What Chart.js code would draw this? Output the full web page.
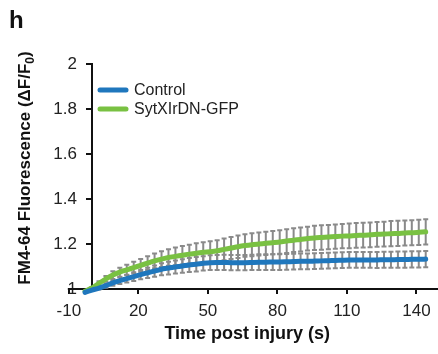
<!DOCTYPE html>
<html>
<head>
<meta charset="utf-8">
<script src="https://cdn.jsdelivr.net/npm/chart.js@4.4.0/dist/chart.umd.min.js"></script>
<style>
  body { margin: 0; background: #fff; }
  #wrap { width: 438px; height: 354px; }
</style>
</head>
<body>
<div id="wrap"><canvas id="fmChart" width="438" height="354"></canvas></div>
<script>
// time points (s) and mean dF/F0 values
const times = [-3, 0, 3, 6, 9, 12, 15, 18, 21, 24, 27, 30, 33, 36, 39, 42, 45, 48, 51, 54,
    57, 60, 63, 66, 69, 72, 75, 78, 81, 84, 87, 90, 93, 96, 99, 102, 105, 108, 111, 114,
    117, 120, 123, 126, 129, 132, 135, 138, 141, 144];

const control = [0.985, 0.995, 1.004, 1.015, 1.027, 1.037, 1.046, 1.055, 1.064, 1.072,
    1.080, 1.088, 1.093, 1.098, 1.102, 1.107, 1.110, 1.114, 1.117, 1.118,
    1.118, 1.117, 1.117, 1.117, 1.118, 1.119, 1.119, 1.120, 1.120, 1.121,
    1.122, 1.123, 1.123, 1.124, 1.125, 1.126, 1.127, 1.128, 1.129, 1.129,
    1.129, 1.129, 1.129, 1.130, 1.130, 1.131, 1.131, 1.132, 1.132, 1.133];

const sytx = [0.990, 1.005, 1.025, 1.045, 1.062, 1.075, 1.085, 1.095, 1.105, 1.115,
    1.125, 1.133, 1.140, 1.145, 1.150, 1.155, 1.159, 1.163, 1.166, 1.170,
    1.176, 1.182, 1.188, 1.193, 1.197, 1.200, 1.203, 1.206, 1.209, 1.213,
    1.217, 1.220, 1.224, 1.227, 1.229, 1.231, 1.233, 1.235, 1.236, 1.238,
    1.239, 1.241, 1.243, 1.244, 1.246, 1.247, 1.249, 1.250, 1.252, 1.254];

// error bar half lengths
const controlErr = [0, 0.003, 0.006, 0.009, 0.012, 0.015, 0.017, 0.019, 0.021, 0.023,
    0.025, 0.027, 0.028, 0.029, 0.030, 0.031, 0.032, 0.032, 0.033, 0.033,
    0.034, 0.034, 0.034, 0.034, 0.034, 0.035, 0.035, 0.035, 0.035, 0.035,
    0.035, 0.035, 0.035, 0.035, 0.035, 0.035, 0.035, 0.035, 0.035, 0.035,
    0.035, 0.035, 0.036, 0.036, 0.036, 0.036, 0.036, 0.036, 0.036, 0.036];

const sytxErr = [0, 0.004, 0.009, 0.013, 0.017, 0.020, 0.023, 0.026, 0.028, 0.031,
    0.033, 0.035, 0.037, 0.039, 0.041, 0.042, 0.044, 0.045, 0.046, 0.047,
    0.048, 0.049, 0.050, 0.050, 0.051, 0.051, 0.052, 0.052, 0.052, 0.053,
    0.053, 0.053, 0.053, 0.054, 0.054, 0.054, 0.054, 0.054, 0.055, 0.055,
    0.055, 0.055, 0.055, 0.055, 0.056, 0.056, 0.056, 0.056, 0.056, 0.056];

const xTicks = [-10, 20, 50, 80, 110, 140];
const yTicks = [1, 1.2, 1.4, 1.6, 1.8, 2];

const seriesNames = ['Control', 'SytXIrDN-GFP'];
const seriesColors = ['#1f77bd', '#79c142'];
const errors = [controlErr, sytxErr];

const FONT = '"Liberation Sans", Arial, sans-serif';

const errorBars = {
    id: 'errorBars',
    beforeDatasetsDraw(chart) {
        const { ctx, scales: { x, y } } = chart;
        ctx.save();
        ctx.strokeStyle = '#8a8a8a';
        ctx.lineWidth = 2;
        chart.data.datasets.forEach((ds, i) => {
            ds.data.forEach((p, j) => {
                const e = errors[i][j];
                if (!e) return;
                const px = x.getPixelForValue(p.x);
                const top = y.getPixelForValue(p.y + e);
                const bot = y.getPixelForValue(p.y - e);
                ctx.beginPath();
                ctx.moveTo(px, top); ctx.lineTo(px, bot);
                ctx.moveTo(px - 2.5, top); ctx.lineTo(px + 2.5, top);
                ctx.moveTo(px - 2.5, bot); ctx.lineTo(px + 2.5, bot);
                ctx.stroke();
            });
        });
        ctx.restore();
    }
};

// titles, legend, panel letter and the axis stub left of the y axis
const decorations = {
    id: 'decorations',
    beforeDatasetsDraw(chart) {
        const { ctx, chartArea, scales: { x } } = chart;
        ctx.save();
        ctx.strokeStyle = '#111';
        ctx.lineWidth = 2;
        ctx.beginPath();
        ctx.moveTo(x.getPixelForValue(xTicks[0]) - 1, chartArea.bottom);
        ctx.lineTo(chartArea.left, chartArea.bottom);
        ctx.stroke();
        ctx.restore();
    },
    afterDraw(chart) {
        const { ctx, scales: { x } } = chart;
        ctx.save();
        ctx.fillStyle = '#111';

        // panel letter
        ctx.font = 'bold 24px ' + FONT;
        ctx.textAlign = 'left';
        ctx.textBaseline = 'alphabetic';
        ctx.fillText('h', 9, 28);

        // x title
        ctx.font = 'bold 18px ' + FONT;
        ctx.textAlign = 'center';
        ctx.textBaseline = 'middle';
        const xMid = (x.getPixelForValue(xTicks[0]) + x.getPixelForValue(times[times.length - 1])) / 2;
        ctx.fillText('Time post injury (s)', xMid, 334);

        // y title with subscript
        const parts = [
            { t: 'FM4-64 Fluorescence (\u0394F/F', f: 'bold 17px ' + FONT, dy: 0 },
            { t: '0', f: 'bold 12px ' + FONT, dy: 4 },
            { t: ')', f: 'bold 17px ' + FONT, dy: 0 }
        ];
        let total = 0;
        parts.forEach(p => { ctx.font = p.f; p.w = ctx.measureText(p.t).width; total += p.w; });
        ctx.translate(30, 168);
        ctx.rotate(-Math.PI / 2);
        ctx.textAlign = 'left';
        ctx.textBaseline = 'alphabetic';
        let cx = -total / 2;
        parts.forEach(p => {
            ctx.font = p.f;
            ctx.fillText(p.t, cx, p.dy);
            cx += p.w;
        });
        ctx.setTransform(1, 0, 0, 1, 0, 0);

        // legend
        ctx.font = '16px ' + FONT;
        ctx.textAlign = 'left';
        ctx.textBaseline = 'middle';
        ctx.lineWidth = 5;
        ctx.lineCap = 'round';
        seriesNames.forEach((name, i) => {
            const ly = 90 + i * 19;
            ctx.strokeStyle = seriesColors[i];
            ctx.beginPath();
            ctx.moveTo(100, ly); ctx.lineTo(126, ly);
            ctx.stroke();
            ctx.fillStyle = '#222';
            ctx.fillText(name, 134, ly + 1);
        });
        ctx.restore();
    }
};

const ctx = document.getElementById('fmChart').getContext('2d');

new Chart(ctx, {
    type: 'line',
    data: {
        datasets: [
            {
                label: seriesNames[0],
                data: times.map((t, i) => ({ x: t, y: control[i] })),
                borderColor: seriesColors[0],
                borderWidth: 5,
                pointRadius: 0,
                tension: 0.2,
                borderCapStyle: 'round',
                borderJoinStyle: 'round',
                clip: false
            },
            {
                label: seriesNames[1],
                data: times.map((t, i) => ({ x: t, y: sytx[i] })),
                borderColor: seriesColors[1],
                borderWidth: 5,
                pointRadius: 0,
                tension: 0.2,
                borderCapStyle: 'round',
                borderJoinStyle: 'round',
                clip: false
            }
        ]
    },
    options: {
        responsive: false,
        animation: false,
        layout: { padding: { top: 64, right: 0, bottom: 0, left: 0 } },
        plugins: {
            legend: { display: false },
            tooltip: { enabled: false }
        },
        scales: {
            x: {
                type: 'linear',
                min: 0,
                max: 149.3,
                afterBuildTicks: scale => { scale.ticks = xTicks.map(v => ({ value: v })); },
                afterFit: scale => { scale.height = 65; },
                grid: { drawOnChartArea: false, drawTicks: true, tickLength: 5, color: '#111', lineWidth: 2 },
                border: { color: '#111', width: 2 },
                ticks: { autoSkip: false, maxRotation: 0, padding: 7, color: '#222', font: { family: FONT, size: 17 } }
            },
            y: {
                min: 1,
                max: 2,
                afterBuildTicks: scale => { scale.ticks = yTicks.map(v => ({ value: v })); },
                afterFit: scale => { scale.width = 92; },
                grid: { drawOnChartArea: false, drawTicks: true, tickLength: 6, color: '#111', lineWidth: 2 },
                border: { color: '#111', width: 2 },
                ticks: {
                    padding: 9, color: '#222', font: { family: FONT, size: 17 },
                    callback: v => String(Number(v.toFixed(1)))
                }
            }
        }
    },
    plugins: [errorBars, decorations]
});
</script>
</body>
</html>
